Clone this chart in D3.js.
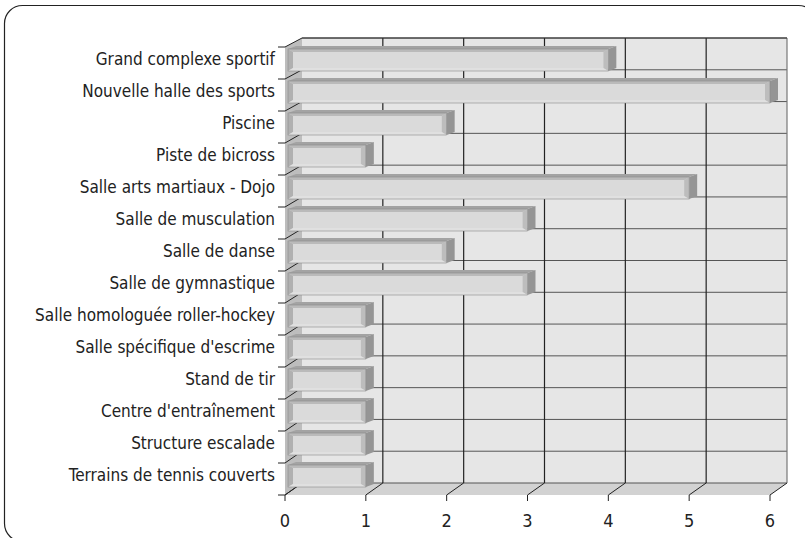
<!DOCTYPE html>
<html lang="fr">
<head>
<meta charset="UTF-8">
<title>Équipements sportifs</title>
<script src="https://cdnjs.cloudflare.com/ajax/libs/d3/7.8.5/d3.min.js"></script>
<style>
  body { margin: 0; background: #fff; }
  svg { display: block; }
  text { font-family: "Liberation Sans Narrow", "DejaVu Sans Condensed", sans-serif; fill: #222; }
</style>
</head>
<body>
<svg width="805" height="538"></svg>
<script>
// données
const categories = [
  "Grand complexe sportif",
  "Nouvelle halle des sports",
  "Piscine",
  "Piste de bicross",
  "Salle arts martiaux - Dojo",
  "Salle de musculation",
  "Salle de danse",
  "Salle de gymnastique",
  "Salle homologuée roller-hockey",
  "Salle spécifique d'escrime",
  "Stand de tir",
  "Centre d'entraînement",
  "Structure escalade",
  "Terrains de tennis couverts"
];
const values = [4, 6, 2, 1, 5, 3, 2, 3, 1, 1, 1, 1, 1, 1];
const xTicks = [0, 1, 2, 3, 4, 5, 6];

const svg = d3.select("svg");

// cadre arrondi
svg.append("rect")
  .attr("x", 4.5).attr("y", 5.5)
  .attr("width", 812).attr("height", 536)
  .attr("rx", 18)
  .attr("fill", "none")
  .attr("stroke", "#222")
  .attr("stroke-width", 1.2);

// profondeur 3D
const dx = 17, dyTop = -9, dyBot = -12;

const x = d3.scaleLinear().domain([0, 6]).range([285, 770]);
const y = d3.scaleBand().domain(d3.range(categories.length)).range([47, 495]).padding(0);
const yBack = d3.scaleBand().domain(d3.range(categories.length)).range([38, 483]).padding(0);

const x0 = x(0), x6 = x(6);
const yT = 47, yB = 495;

// mur de gauche
svg.append("polygon")
  .attr("points", [[x0, yT], [x0 + dx, yT + dyTop], [x0 + dx, yB + dyBot], [x0, yB]].join(" "))
  .attr("fill", "#bdbdbd");

// sol
svg.append("polygon")
  .attr("points", [[x0, yB], [x6, yB], [x6 + dx, yB + dyBot], [x0 + dx, yB + dyBot]].join(" "))
  .attr("fill", "#d2d2d2");

// mur du fond
svg.append("rect")
  .attr("x", x0 + dx).attr("y", yT + dyTop)
  .attr("width", x6 - x0).attr("height", (yB + dyBot) - (yT + dyTop))
  .attr("fill", "#e6e6e6");

// grille horizontale (fond)
svg.append("g").selectAll("line")
  .data(d3.range(categories.length + 1))
  .join("line")
  .attr("x1", x0 + dx).attr("x2", x6 + dx)
  .attr("y1", i => i < categories.length ? yBack(i) : yBack.range()[1])
  .attr("y2", i => i < categories.length ? yBack(i) : yBack.range()[1])
  .attr("stroke", "#555").attr("stroke-width", 1);

// grille verticale (fond)
svg.append("g").selectAll("line")
  .data(xTicks.slice(1))
  .join("line")
  .attr("x1", d => x(d) + dx).attr("x2", d => x(d) + dx)
  .attr("y1", yT + dyTop).attr("y2", yB + dyBot)
  .attr("stroke", d => d === 6 ? "#777" : "#222").attr("stroke-width", 1.2);

// bord supérieur du mur
svg.append("line")
  .attr("x1", x0 + dx).attr("x2", x6 + dx)
  .attr("y1", yT + dyTop).attr("y2", yT + dyTop)
  .attr("stroke", "#333");

// graduations catégories : petit trait + diagonale sur le mur gauche
const catEdges = d3.range(categories.length + 1);
const ticksY = svg.append("g").attr("stroke", "#222").attr("stroke-width", 1);
catEdges.forEach(i => {
  const yf = i < categories.length ? y(i) : yB;
  const yb = i < categories.length ? yBack(i) : yB + dyBot;
  ticksY.append("line").attr("x1", x0 - 7).attr("x2", x0).attr("y1", yf).attr("y2", yf);
  ticksY.append("line").attr("x1", x0).attr("x2", x0 + dx).attr("y1", yf).attr("y2", yb);
});

// graduations valeurs : petit trait + diagonale sur le sol
const ticksX = svg.append("g").attr("stroke", "#222").attr("stroke-width", 1);
xTicks.forEach(v => {
  ticksX.append("line").attr("x1", x(v)).attr("x2", x(v)).attr("y1", yB).attr("y2", yB + 6);
  ticksX.append("line").attr("x1", x(v)).attr("x2", x(v) + dx).attr("y1", yB).attr("y2", yB + dyBot);
});

// étiquettes de l'axe des valeurs
svg.append("g").selectAll("text")
  .data(xTicks)
  .join("text")
  .attr("x", d => x(d))
  .attr("y", 527)
  .attr("text-anchor", "middle")
  .attr("font-size", 18)
  .text(d => d);

// étiquettes des catégories
svg.append("g").selectAll("text")
  .data(categories)
  .join("text")
  .attr("x", 275)
  .attr("y", (d, i) => y(i) + 12)
  .attr("dy", "0.35em")
  .attr("text-anchor", "end")
  .attr("font-size", 17)
  .text(d => d);

// barres 3D biseautées
const bdx = 8, bdy = -3;
const bars = svg.append("g").selectAll("g")
  .data(values)
  .join("g");

bars.each(function(v, i) {
  const g = d3.select(this);
  const xl = x0 + 3, xr = x(v);
  const top = y(i) + 2, bot = y(i) + 24;
  // face supérieure
  g.append("polygon")
    .attr("points", [[xl, top], [xl + bdx, top + bdy], [xr + bdx, top + bdy], [xr, top]].join(" "))
    .attr("fill", "#a3a3a3");
  // face droite
  g.append("polygon")
    .attr("points", [[xr, top], [xr + bdx, top + bdy], [xr + bdx, bot + bdy], [xr, bot]].join(" "))
    .attr("fill", "#959595");
  // face avant
  g.append("rect")
    .attr("x", xl).attr("y", top).attr("width", xr - xl).attr("height", bot - top)
    .attr("fill", "#cdcdcd");
  // biseau gauche
  g.append("polygon")
    .attr("points", [[xl, top], [xl + 5, top + 3], [xl + 5, bot - 3], [xl, bot]].join(" "))
    .attr("fill", "#b0b0b0");
  // biseau haut
  g.append("polygon")
    .attr("points", [[xl, top], [xr, top], [xr - 5, top + 3], [xl + 5, top + 3]].join(" "))
    .attr("fill", "#bababa");
  // biseau droit
  g.append("polygon")
    .attr("points", [[xr, top], [xr, bot], [xr - 5, bot - 3], [xr - 5, top + 3]].join(" "))
    .attr("fill", "#bdbdbd");
  // biseau bas
  g.append("polygon")
    .attr("points", [[xl, bot], [xr, bot], [xr - 5, bot - 3], [xl + 5, bot - 3]].join(" "))
    .attr("fill", "#e0e0e0");
  // face centrale
  g.append("rect")
    .attr("x", xl + 5).attr("y", top + 3).attr("width", Math.max(0, xr - xl - 10)).attr("height", bot - top - 6)
    .attr("fill", "#dadada");
  // contour léger
  g.append("rect")
    .attr("x", xl).attr("y", top).attr("width", xr - xl).attr("height", bot - top)
    .attr("fill", "none").attr("stroke", "#8a8a8a").attr("stroke-width", 0.6);
});
</script>
</body>
</html>
